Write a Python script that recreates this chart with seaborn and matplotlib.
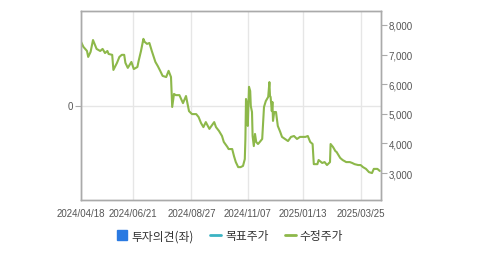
import matplotlib
matplotlib.use("Agg")
import matplotlib.pyplot as plt
import seaborn as sns
import pandas as pd
from matplotlib.lines import Line2D
from matplotlib.ticker import FuncFormatter

# ---- data (trading-day position, adjusted price) ----
day = [0, 2, 5, 6, 8, 10, 12, 13, 16, 18, 20, 22, 23, 26, 27, 30, 32, 34, 36, 37,
       39, 42, 44, 47, 48, 50, 52, 53, 55, 57, 59, 62, 64, 66, 68, 71, 73, 75, 76, 77.5,
       79, 82, 85, 87.5, 90, 92.5, 96, 98, 100, 102, 104, 107, 108, 111, 112.5, 115, 117.5, 119, 122, 123,
       126, 127.5, 129, 131, 133, 135, 136.5, 137, 137.5, 138, 139, 139.5, 140, 141, 141.5, 142.5, 143, 144, 145, 146,
       147.5, 149, 151, 152.5, 154, 156, 157, 157.5, 158, 159, 159.5, 160, 161, 162.5, 164, 166, 167.5, 170, 172.5, 175,
       177.5, 180, 182.5, 187, 189, 191, 193, 194, 197, 198, 201, 203, 205, 207.5, 208, 210, 212, 213, 216, 218,
       221, 224, 226, 228, 231, 233, 235, 237.5, 240, 242.5, 244, 247, 249]
price = [7430, 7260, 7120, 6920, 7090, 7490, 7290, 7190, 7120, 7190, 7050, 7120, 7020, 6990, 6480, 6720, 6920, 6990, 6990, 6720,
         6550, 6750, 6510, 6580, 6780, 7120, 7530, 7430, 7360, 7390, 7120, 6750, 6610, 6450, 6280, 6240, 6450, 6240, 5230, 5670,
         5630, 5630, 5360, 5600, 5090, 4990, 4990, 4890, 4690, 4550, 4720, 4490, 4550, 4720, 4550, 4420, 4250, 4050, 3880, 3810,
         3810, 3570, 3370, 3200, 3200, 3240, 3470, 4150, 5500, 5400, 4590, 5260, 5910, 5770, 5260, 5060, 4250, 3910, 4320, 4050,
         3980, 4050, 4150, 5230, 5430, 5570, 6070, 5600, 5570, 5090, 5400, 4760, 5060, 5060, 4590, 4390, 4220, 4150, 4080, 4220,
         4250, 4150, 4220, 4220, 4250, 4050, 3980, 3300, 3300, 3440, 3340, 3370, 3270, 3370, 3980, 3880, 3740, 3710, 3510, 3440,
         3370, 3370, 3340, 3300, 3270, 3270, 3200, 3140, 3030, 3000, 3140, 3140, 3070]
tick_days = [0, 43, 92, 139, 185, 233]
tick_labels = ["2024/04/18", "2024/06/21", "2024/08/27", "2024/11/07", "2025/01/13", "2025/03/25"]
price_ticks = [3000, 4000, 5000, 6000, 7000, 8000]
legend_labels = ["투자의견(좌)", "목표주가", "수정주가"]

df = pd.DataFrame({"day": day, "price": price})

sns.set_style("white")
plt.rcParams["font.family"] = ["Liberation Sans", "Noto Sans CJK KR", "DejaVu Sans"]

GREEN = "#8db84a"
GRID = "#e6e6e6"
SPINE = "#aaaaaa"
TXT = "#555555"

fig = plt.figure(figsize=(4.79, 2.55), dpi=100)
ax = fig.add_axes([81 / 479, 1 - 201 / 255, 300 / 479, 189 / 255])
ax2 = ax.twinx()

# left axis (opinion), only 0
ax.set_ylim(-1, 1)
ax.set_yticks([0])
ax.set_yticklabels(["0"])
ax.set_xlim(0, 250)
ax.set_xticks(tick_days)
ax.set_xticklabels(tick_labels)
ax.grid(True, axis="both", color=GRID, linewidth=1)
ax.set_axisbelow(True)

sns.lineplot(data=df, x="day", y="price", ax=ax2, color=GREEN, linewidth=1.5, legend=False)
ax2.set_ylim(2090, 8470)
ax2.set_yticks(price_ticks)
ax2.yaxis.set_major_formatter(FuncFormatter(lambda v, p: f"{int(v):,}"))
ax2.set_xlim(0, 250)
ax2.set_xlabel("")
ax2.set_ylabel("")
ax.set_xlabel("")
ax.set_ylabel("")

for a in (ax, ax2):
    for s in a.spines.values():
        s.set_color(SPINE)
        s.set_linewidth(1)
    a.tick_params(axis="both", which="major", length=4, width=0.8, color=SPINE,
                  labelsize=7, labelcolor=TXT, pad=1.5)

handles = [
    Line2D([], [], linestyle="none", marker="s", markersize=7, markerfacecolor="#2a7ae2", markeredgecolor="#2a7ae2"),
    Line2D([], [], color="#3bb3c3", linewidth=2),
    Line2D([], [], color=GREEN, linewidth=2),
]
fig.legend(handles, legend_labels, loc="center", bbox_to_anchor=(230 / 479, 1 - 237 / 255), ncol=3,
           frameon=False, prop={"family": ["Noto Sans CJK KR", "DejaVu Sans"], "size": 8.5},
           labelcolor="#333333", handlelength=0.9, handletextpad=0.35, columnspacing=1.4, borderpad=0)

fig.savefig("out.png", dpi=100)
